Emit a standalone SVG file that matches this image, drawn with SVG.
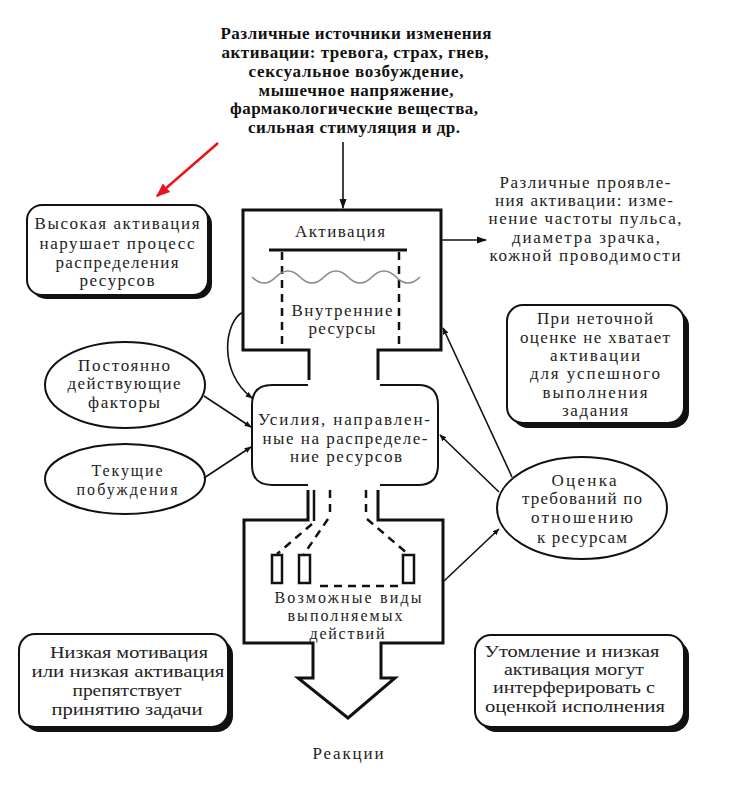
<svg xmlns="http://www.w3.org/2000/svg" width="742" height="803" viewBox="0 0 742 803">
<defs>
<style>
.t{font-family:"Liberation Serif","DejaVu Serif",serif;font-size:17px;fill:#222;text-anchor:middle}
.s{font-size:16px}
.b{font-weight:bold;font-size:17px;fill:#111}
.box{fill:none;stroke:#111;stroke-width:3;stroke-linejoin:miter}
.thin{fill:none;stroke:#111;stroke-width:2}
.dash{fill:none;stroke:#111;stroke-width:2.5;stroke-dasharray:8 6}
.con{fill:none;stroke:#111;stroke-width:1.6}
.shadow{fill:#111}
.card{fill:#fff;stroke:#111;stroke-width:2}
.ell{fill:#fff;stroke:#111;stroke-width:2}
</style>
<marker id="ah" viewBox="0 0 10 10" refX="9" refY="5" markerWidth="7" markerHeight="7" orient="auto" markerUnits="userSpaceOnUse">
<path d="M0,1 L10,5 L0,9 z" fill="#111"/>
</marker>
<marker id="ahb" viewBox="0 0 10 10" refX="9" refY="5" markerWidth="10" markerHeight="10" orient="auto" markerUnits="userSpaceOnUse">
<path d="M0,1.5 L10,5 L0,8.5 z" fill="#111"/>
</marker>
<marker id="ahr" viewBox="0 0 10 10" refX="9" refY="5" markerWidth="14" markerHeight="14" orient="auto" markerUnits="userSpaceOnUse">
<path d="M0,1 L10,5 L0,9 z" fill="#e8141b"/>
</marker>
</defs>

<g id="sources">
<text class="t b" x="356" y="39" textLength="271" lengthAdjust="spacing">Различные источники изменения</text>
<text class="t b" x="355" y="58" textLength="267" lengthAdjust="spacing">активации: тревога, страх, гнев,</text>
<text class="t b" x="356" y="77" textLength="215" lengthAdjust="spacing">сексуальное возбуждение,</text>
<text class="t b" x="356" y="96" textLength="195" lengthAdjust="spacing">мышечное напряжение,</text>
<text class="t b" x="354" y="114" textLength="248" lengthAdjust="spacing">фармакологические вещества,</text>
<text class="t b" x="354" y="133" textLength="212" lengthAdjust="spacing">сильная стимуляция и др.</text>
</g>

<g id="activation">
<path class="box" d="M309,380 L309,350 L243,350 L243,210 L441,210 L441,350 L378,350 L378,380"/>
<text class="t" x="340" y="237" textLength="90" lengthAdjust="spacing">Активация</text>
<line x1="269" y1="250" x2="407" y2="250" stroke="#111" stroke-width="3"/>
<line class="dash" x1="282" y1="252" x2="282" y2="349"/>
<line class="dash" x1="399" y1="252" x2="399" y2="349"/>
<path d="M252,277 q12,12 24,0 t24,0 t24,0 t24,0 t24,0 t24,0 t24,0" fill="none" stroke="#888" stroke-width="1.6"/>
<text class="t" x="342" y="316" textLength="101" lengthAdjust="spacing">Внутренние</text>
<text class="t" x="342" y="334" textLength="67" lengthAdjust="spacing">ресурсы</text>
</g>

<g id="manifestations">
<text class="t" x="585" y="188" textLength="171" lengthAdjust="spacing">Различные проявле-</text>
<text class="t" x="584" y="206" textLength="178" lengthAdjust="spacing">ния активации: изме-</text>
<text class="t" x="585" y="224" textLength="193" lengthAdjust="spacing">нение частоты пульса,</text>
<text class="t" x="586" y="243" textLength="148" lengthAdjust="spacing">диаметра зрачка,</text>
<text class="t" x="585" y="261" textLength="191" lengthAdjust="spacing">кожной проводимости</text>
</g>

<g id="high-activation">
<rect class="shadow" x="31" y="209" width="181" height="90" rx="15"/>
<rect class="card" x="27" y="205" width="181" height="90" rx="15"/>
<text class="t" x="117" y="229" textLength="165" lengthAdjust="spacing">Высокая активация</text>
<text class="t" x="117" y="249" textLength="155" lengthAdjust="spacing">нарушает процесс</text>
<text class="t" x="117" y="268" textLength="123" lengthAdjust="spacing">распределения</text>
<text class="t" x="117" y="286" textLength="75" lengthAdjust="spacing">ресурсов</text>
</g>

<g id="inaccurate">
<rect class="shadow" x="512" y="310" width="177" height="118" rx="16"/>
<rect class="card" x="507" y="305" width="177" height="118" rx="16"/>
<text class="t" x="595" y="324" textLength="116" lengthAdjust="spacing">При неточной</text>
<text class="t" x="595" y="343" textLength="150" lengthAdjust="spacing">оценке не хватает</text>
<text class="t" x="595" y="361" textLength="90" lengthAdjust="spacing">активации</text>
<text class="t" x="595" y="379" textLength="130" lengthAdjust="spacing">для успешного</text>
<text class="t" x="595" y="398" textLength="105" lengthAdjust="spacing">выполнения</text>
<text class="t" x="595" y="416" textLength="66" lengthAdjust="spacing">задания</text>
</g>

<g id="constant-factors">
<ellipse class="ell" cx="125" cy="385" rx="80" ry="43"/>
<text class="t" x="124" y="371" textLength="92" lengthAdjust="spacing">Постоянно</text>
<text class="t" x="124" y="389" textLength="113" lengthAdjust="spacing">действующие</text>
<text class="t" x="124" y="408" textLength="72" lengthAdjust="spacing">факторы</text>
</g>

<g id="current-motives">
<ellipse class="ell" cx="125" cy="479" rx="80" ry="35"/>
<text class="t s" x="127" y="476" textLength="71" lengthAdjust="spacing">Текущие</text>
<text class="t s" x="127" y="495" textLength="101" lengthAdjust="spacing">побуждения</text>
</g>

<g id="effort">
<path class="thin" d="M308,385 L272,385 Q252,385 252,405 L252,465 Q252,485 272,485 L308,485 M380,485 L418,485 Q438,485 438,465 L438,405 Q438,385 418,385 L380,385"/>
<text class="t" x="344" y="425" textLength="172" lengthAdjust="spacing">Усилия, направлен-</text>
<text class="t" x="345" y="444" textLength="165" lengthAdjust="spacing">ные на распределе-</text>
<text class="t" x="346" y="462" textLength="112" lengthAdjust="spacing">ние ресурсов</text>
</g>

<g id="evaluation">
<ellipse class="ell" cx="582" cy="508" rx="85" ry="51"/>
<text class="t" x="584" y="486" textLength="65" lengthAdjust="spacing">Оценка</text>
<text class="t" x="582" y="504" textLength="120" lengthAdjust="spacing">требований по</text>
<text class="t" x="582" y="523" textLength="102" lengthAdjust="spacing">отношению</text>
<text class="t" x="582" y="543" textLength="90" lengthAdjust="spacing">к ресурсам</text>
</g>

<g id="actions">
<path class="box" stroke-width="2.5" d="M308,490 L308,520 L244,520 L244,643 L313,643 L313,678 L298,678 L348,718 L395,678 L381,678 L381,643 L443,643 L443,520 L378,520 L378,490"/>
<line x1="314" y1="490" x2="314" y2="521" stroke="#111" stroke-width="2.5"/>
<line class="dash" x1="330" y1="490" x2="330" y2="517"/>
<line class="dash" x1="366" y1="490" x2="366" y2="517"/>
<line class="dash" stroke-dasharray="9 6" x1="312" y1="524" x2="277" y2="554"/>
<line class="dash" stroke-dasharray="9 6" x1="328" y1="519" x2="304" y2="554"/>
<line class="dash" stroke-dasharray="9 6" x1="367" y1="519" x2="408" y2="554"/>
<rect x="272" y="555" width="10" height="28" fill="none" stroke="#111" stroke-width="2.5"/>
<rect x="299" y="555" width="11" height="28" fill="none" stroke="#111" stroke-width="2.5"/>
<rect x="403" y="555" width="11" height="28" fill="none" stroke="#111" stroke-width="2.5"/>
<line class="dash" x1="320" y1="586" x2="398" y2="586"/>
<text class="t s" x="348" y="603" textLength="147" lengthAdjust="spacing">Возможные виды</text>
<text class="t s" x="345" y="621" textLength="115" lengthAdjust="spacing">выполняемых</text>
<text class="t s" x="347" y="639" textLength="75" lengthAdjust="spacing">действий</text>
</g>

<g id="low-motivation">
<rect class="shadow" x="24" y="639" width="209" height="93" rx="16"/>
<rect class="card" x="19" y="634" width="209" height="93" rx="16"/>
<text class="t" x="129" y="658" textLength="158" lengthAdjust="spacingAndGlyphs">Низкая мотивация</text>
<text class="t" x="128" y="677" textLength="193" lengthAdjust="spacingAndGlyphs">или низкая активация</text>
<text class="t" x="127" y="696" textLength="109" lengthAdjust="spacingAndGlyphs">препятствует</text>
<text class="t" x="127" y="715" textLength="151" lengthAdjust="spacingAndGlyphs">принятию задачи</text>
</g>

<g id="fatigue">
<rect class="shadow" x="480" y="640" width="209" height="92" rx="16"/>
<rect class="card" x="475" y="635" width="209" height="92" rx="16"/>
<text class="t s" x="572" y="657" textLength="175" lengthAdjust="spacingAndGlyphs">Утомление и низкая</text>
<text class="t s" x="574" y="675" textLength="140" lengthAdjust="spacingAndGlyphs">активация могут</text>
<text class="t s" x="574" y="693" textLength="162" lengthAdjust="spacingAndGlyphs">интерферировать с</text>
<text class="t s" x="575" y="712" textLength="180" lengthAdjust="spacingAndGlyphs">оценкой исполнения</text>
</g>

<g id="reactions">
<text class="t" x="348" y="759" textLength="71" lengthAdjust="spacing">Реакции</text>
</g>

<g id="connectors">
<line class="con" stroke-width="2" x1="343" y1="142" x2="343" y2="208" marker-end="url(#ahb)"/>
<line class="con" stroke-width="2" x1="441" y1="240" x2="486" y2="240" marker-end="url(#ahb)"/>
<path class="con" d="M243,312 C224,322 218,372 252,398" marker-end="url(#ah)"/>
<line class="con" x1="204" y1="396" x2="251" y2="427" marker-end="url(#ah)"/>
<line class="con" x1="204" y1="478" x2="251" y2="447" marker-end="url(#ah)"/>
<line class="con" x1="512" y1="477" x2="443" y2="328" marker-end="url(#ah)"/>
<line class="con" x1="499" y1="492" x2="440" y2="435" marker-end="url(#ah)"/>
<line class="con" x1="444" y1="581" x2="499" y2="529" marker-end="url(#ah)"/>
<line x1="218" y1="143" x2="157" y2="196" stroke="#e8141b" stroke-width="2.5" marker-end="url(#ahr)"/>
</g>
</svg>
